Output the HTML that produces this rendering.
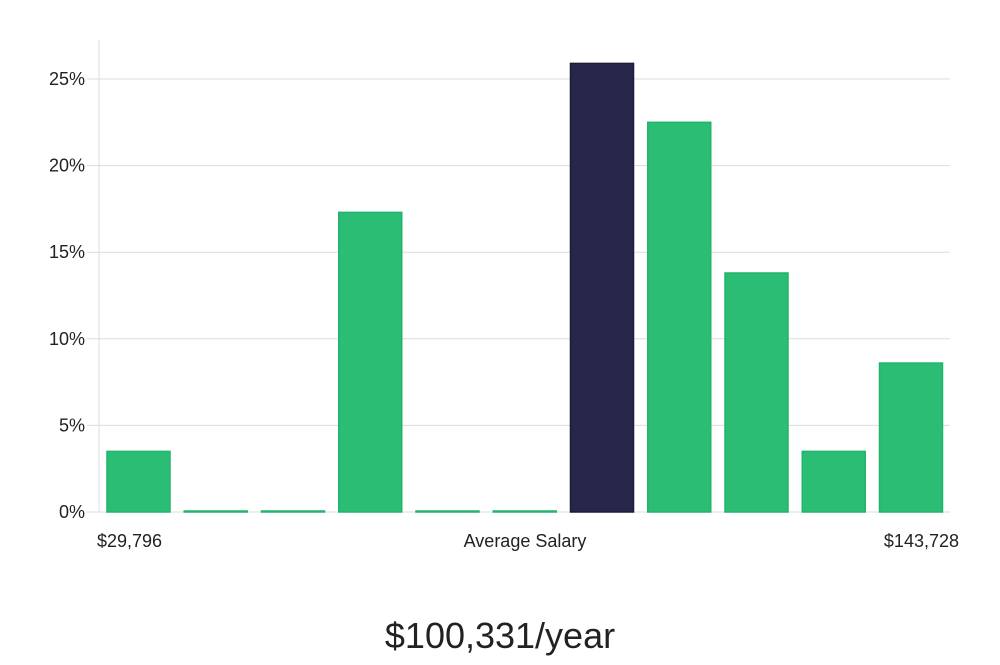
<!DOCTYPE html>
<html><head><meta charset="utf-8"><style>
body{margin:0;background:#fff;width:1000px;height:660px;overflow:hidden;font-family:"Liberation Sans","DejaVu Sans",sans-serif;}
</style></head><body>
<svg id="chart" width="1000" height="660" xmlns="http://www.w3.org/2000/svg"></svg>
<script>
const values=[3.5,0,0,17.3,0,0,25.9,22.5,13.8,3.5,8.6];
const highlight=[false,false,false,false,false,false,true,false,false,false,false];
const yTicks=[0,5,10,15,20,25];
const xLabels=["$29,796","Average Salary","$143,728"];
const ns="http://www.w3.org/2000/svg";
const svg=document.getElementById('chart');
const y0=512, pxPer=433/25;
function yScale(v){return y0-v*pxPer;}
function xCenter(i){return 138.5+i*77.25;}
function mk(tag,attrs){const e=document.createElementNS(ns,tag);for(const k in attrs)e.setAttribute(k,attrs[k]);svg.appendChild(e);return e;}
yTicks.forEach(t=>{
  const g=mk('line',{x1:87,x2:950,y1:yScale(t),y2:yScale(t),stroke:'#dcdcdc','stroke-width':1});
  
  
  const l=mk('text',{x:85,y:yScale(t)+6,'text-anchor':'end','font-size':18,fill:'#222'});
  l.textContent=t+'%';
  
  
});
const ax=mk('line',{x1:99,x2:99,y1:40,y2:512,stroke:'#dcdcdc','stroke-width':1});


values.forEach((v,i)=>{
  const h=Math.max(v*pxPer,1);
  const r=mk('rect',{x:xCenter(i)-31.5,y:y0-h,width:63,height:h,
    fill:highlight[i]?'#28264a':'#2bbd74',stroke:highlight[i]?'#1d1b3a':'#22b46b','stroke-width':1.5});
  
  
});
const pos=[[97,'start'],[525,'middle'],[959,'end']];
xLabels.forEach((s,i)=>{
  const t=mk('text',{x:pos[i][0],y:547,'text-anchor':pos[i][1],'font-size':18,fill:'#222'});
  t.textContent=s;
  
  
});
const tt=mk('text',{x:500,y:648,'text-anchor':'middle','font-size':36,fill:'#222'});
tt.textContent='$100,331/year';


</script>
</body></html>
